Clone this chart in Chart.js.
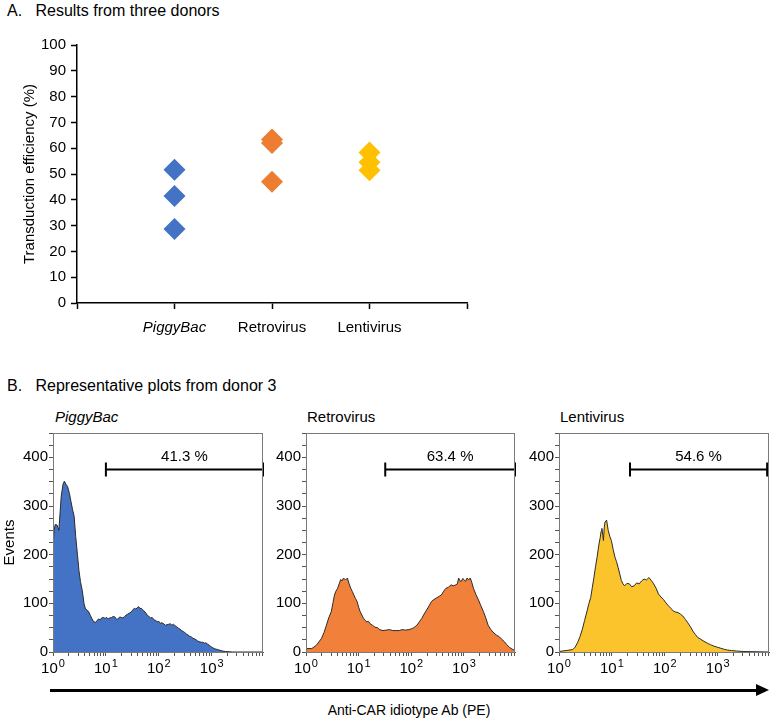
<!DOCTYPE html>
<html>
<head>
<meta charset="utf-8">
<script src="https://cdn.jsdelivr.net/npm/chart.js@4.4.1/dist/chart.umd.min.js"></script>
<style>
body { margin: 0; background: #fff; }
#page { position: relative; width: 778px; height: 718px; overflow: hidden; font-family: "Liberation Sans", Arial, sans-serif; color: #000; }
.box { position: absolute; }
.txt { position: absolute; white-space: nowrap; line-height: 1; }
#arrow { position: absolute; left: 50px; top: 689px; width: 708px; height: 3px; background: #000; }
#arrowHead { position: absolute; left: 756px; top: 684px; width: 0; height: 0; border-top: 6.5px solid transparent; border-bottom: 6.5px solid transparent; border-left: 13px solid #000; }
</style>
</head>
<body>
<div id="page">
  <div class="txt" style="left:7px;top:3px;font-size:16px">A.&nbsp;&nbsp;&nbsp;Results from three donors</div>
  <div class="box" style="left:0;top:30px;width:480px;height:320px"><canvas id="chartA"></canvas></div>

  <div class="txt" style="left:7px;top:378px;font-size:16px">B.&nbsp;&nbsp;&nbsp;Representative plots from donor 3</div>
  <div class="txt" style="left:55px;top:409px;font-size:15px;font-style:italic">PiggyBac</div>
  <div class="txt" style="left:307px;top:409px;font-size:15px">Retrovirus</div>
  <div class="txt" style="left:560px;top:409px;font-size:15px">Lentivirus</div>
  <div class="box" style="left:0;top:395px;width:272px;height:290px"><canvas id="histPB"></canvas></div>
  <div class="box" style="left:272px;top:395px;width:252px;height:290px"><canvas id="histRV"></canvas></div>
  <div class="box" style="left:524px;top:395px;width:254px;height:290px"><canvas id="histLV"></canvas></div>

  <div id="arrow"></div>
  <div id="arrowHead"></div>
  <div class="txt" style="left:0;width:818px;text-align:center;top:703px;font-size:14px">Anti-CAR idiotype Ab (PE)</div>
</div>

<script>
// Panel A: transduction efficiency, three donors
const CATEGORIES = ['PiggyBac', 'Retrovirus', 'Lentivirus'];
const PIGGYBAC = [51.6, 41.5, 28.7];
const RETROVIRUS = [63.4, 62.0, 47.0];
const LENTIVIRUS = [58.3, 54.6, 51.5];
const COLORS_A = ['#4472C4', '#ED7D31', '#FFC000'];

// Panel B: histograms from donor 3 (x = fluorescence, y = events)
const PB_X = [1, 1.05, 1.1, 1.19, 1.29, 1.43, 1.55, 1.64, 1.75, 1.89, 2.05, 2.18, 2.35, 2.51, 2.69, 2.9, 3.09, 3.3, 3.58, 3.85,
  4.12, 4.45, 4.75, 5.1, 5.47, 5.9, 6.31, 6.8, 7.24, 7.8, 8.3, 9, 9.66, 10.4, 11, 11.9, 12.8, 13.8, 14.8, 15.9,
  17, 18.2, 19.5, 21, 22.6, 24.2, 26, 28, 30, 32, 34.5, 37, 39.8, 42, 44, 46.5, 49, 52, 55, 58,
  61, 65, 70, 75, 80.9, 87, 93, 100, 107, 115, 124, 133, 143, 154, 165, 177, 189, 203, 218, 234,
  251, 270, 290, 310, 331, 357, 385, 413, 443, 475, 510, 550, 589, 635, 680, 728, 776, 840, 900, 970,
  1035, 1120, 1200, 1290, 1380, 1600, 1820, 2510, 9330];
const PB_Y = [210, 250, 262, 261, 250, 320, 345, 351, 345, 340, 325, 310, 292, 279, 237, 200, 168, 145, 126, 100,
  88, 86, 82, 75, 68, 62, 61, 64, 68, 66, 70, 71, 69, 71, 68, 70, 71, 73, 72, 67,
  68, 72, 71, 70, 73, 76, 78, 80, 82, 86, 90, 88, 92, 93, 89, 90, 87, 85, 82, 79,
  75, 73, 70, 71, 66, 65, 62, 63, 59, 60, 58, 55, 56, 57, 58, 55, 57, 54, 52, 49,
  47, 44, 42, 40, 37, 35, 32, 31, 28, 27, 25, 22, 21, 20, 20, 18, 19, 16, 14, 11,
  9, 7, 6, 5, 4, 2, 1, 0, 0];

const RV_X = [1, 1.29, 1.58, 1.97, 2.2, 2.44, 2.7, 3.02, 3.24, 3.47, 3.7, 3.98, 4.27, 4.57, 4.85, 5.16, 5.62, 6.12, 6.6, 7.08,
  7.6, 8.13, 8.7, 9.33, 10, 10.7, 11.5, 12.4, 13.3, 14.3, 15.4, 16.5, 18.3, 20.4, 22.6, 25.1, 29, 33.4, 38.5, 44.4,
  51, 58.9, 67, 77.6, 90, 104, 115, 128, 142, 158, 175, 195, 218, 243, 270, 300, 335, 372, 412, 457,
  510, 566, 630, 701, 750, 794, 840, 891, 945, 1000, 1070, 1148, 1230, 1318, 1410, 1514, 1690, 1888, 2100, 2344,
  2600, 2884, 3200, 3548, 4100, 4732, 5250, 5888, 6500, 7244, 8200, 9330];
const RV_Y = [7, 7, 14, 28, 40, 55, 70, 83, 100, 117, 125, 131, 140, 149, 146, 152, 148, 152, 140, 131,
  124, 117, 110, 104, 92, 83, 76, 69, 65, 62, 63, 58, 55, 51, 50, 46, 44, 45, 46, 44,
  44, 44, 46, 45, 46, 48, 51, 55, 62, 69, 78, 86, 95, 104, 108, 111, 114, 117, 125, 131,
  133, 138, 136, 138, 140, 152, 146, 145, 151, 149, 145, 152, 148, 152, 143, 131, 118, 107, 95, 83,
  70, 55, 47, 41, 35, 31, 26, 21, 15, 10, 6, 3];

const LV_X = [1, 1.36, 1.82, 2.02, 2.24, 2.5, 2.75, 3.05, 3.39, 3.68, 3.98, 4.27, 4.57, 4.9, 5.25, 5.62, 6.03, 6.25, 6.46, 6.7,
  6.92, 7.15, 7.41, 7.94, 8.51, 9.1, 9.77, 10.6, 11.4, 12.2, 13.1, 14.1, 15.1, 16.2, 17.4, 19.2, 21.4, 23.7, 26.3, 29.4,
  32.7, 36.4, 40.5, 45, 50.1, 55.5, 61.7, 68.5, 75.9, 84.5, 94.4, 105, 117, 130, 145, 161, 178, 197, 219, 245,
  272, 305, 339, 378, 417, 480, 550, 640, 733, 850, 977, 1120, 1288, 1520, 1820, 2300, 3020, 9330];
const LV_Y = [1, 3, 5, 10, 19, 32, 46, 65, 84, 100, 112, 133, 153, 175, 195, 218, 236, 248, 254, 241,
  229, 255, 267, 271, 250, 238, 229, 210, 195, 186, 174, 160, 147, 140, 136, 141, 140, 134, 136, 142,
  140, 146, 150, 148, 153, 147, 140, 131, 119, 113, 108, 101, 95, 90, 84, 82, 81, 78, 74, 67,
  60, 52, 43, 36, 30, 26, 22, 18, 15, 12, 10, 8, 6, 4, 3, 2, 1, 0];

const HIST_COLORS = ['#4472C4', '#F0803A', '#FBC42C'];
const GATE_START = [10, 32, 22];
const GATE_END = [9330, 9330, 8600];
const GATE_Y = 375;
const GATE_LABELS = ['41.3 %', '63.4 %', '54.6 %'];

const X_TICKS = [1, 2, 3, 4, 5, 6, 7, 8, 9, 10, 20, 30, 40, 50, 60, 70, 80, 90,
  100, 200, 300, 400, 500, 600, 700, 800, 900, 1000, 2000, 3000, 4000, 5000, 6000, 7000, 8000, 9000];
const X_MAJOR = [1, 10, 100, 1000];
const X_EXP = ['0', '1', '2', '3'];
const X_MAX = 9330;

const FONT = '"Liberation Sans", Arial, sans-serif';

// ---- Panel A ----
new Chart(document.getElementById('chartA'), {
  type: 'scatter',
  data: {
    datasets: [
      { label: CATEGORIES[0], data: PIGGYBAC.map(v => ({ x: 1, y: v })), backgroundColor: COLORS_A[0] },
      { label: CATEGORIES[1], data: RETROVIRUS.map(v => ({ x: 2, y: v })), backgroundColor: COLORS_A[1] },
      { label: CATEGORIES[2], data: LENTIVIRUS.map(v => ({ x: 3, y: v })), backgroundColor: COLORS_A[2] }
    ]
  },
  options: {
    responsive: true,
    maintainAspectRatio: false,
    animation: false,
    layout: { padding: { left: 20, right: 13, top: 15, bottom: 7 } },
    elements: { point: { pointStyle: 'rectRot', radius: 11, borderWidth: 0 } },
    plugins: { legend: { display: false }, tooltip: { enabled: false } },
    scales: {
      x: {
        type: 'linear', min: 0, max: 4,
        afterBuildTicks: s => { s.ticks = [0, 1, 2, 3, 4].map(v => ({ value: v })); },
        afterFit: s => { s.height = 40; },
        ticks: {
          autoSkip: false, maxRotation: 0, color: '#000', padding: 10,
          callback: v => CATEGORIES[v - 1] || '',
          font: c => ({ family: FONT, size: 15, style: (c.tick && c.tick.value === 1) ? 'italic' : 'normal' })
        },
        grid: { drawOnChartArea: false, tickLength: 6, color: '#000', tickWidth: 1.5 },
        border: { color: '#000', width: 1.5 }
      },
      y: {
        min: 0, max: 100,
        afterFit: s => { s.width = 57; },
        ticks: { stepSize: 10, color: '#000', padding: 5, font: { family: FONT, size: 15 } },
        grid: { drawOnChartArea: false, tickLength: 6, color: '#000', tickWidth: 1.5 },
        border: { color: '#000', width: 1.5 },
        title: { display: true, text: 'Transduction efficiency (%)', color: '#000', font: { family: FONT, size: 15 }, padding: { top: 1, bottom: 0 } }
      }
    }
  }
});

// ---- Panel B ----
const frame = {
  id: 'frame',
  afterDraw(chart) {
    const a = chart.chartArea, ctx = chart.ctx;
    ctx.save();
    ctx.strokeStyle = '#7a7a7a';
    ctx.lineWidth = 1;
    ctx.strokeRect(a.left + 0.5, a.top + 0.5, a.right - a.left - 1, a.bottom - a.top);
    ctx.restore();
  }
};

const gateLabel = {
  id: 'gateLabel',
  afterDatasetsDraw(chart, args, opts) {
    const pts = chart.getDatasetMeta(1).data;
    const ctx = chart.ctx;
    ctx.save();
    ctx.fillStyle = '#000';
    ctx.font = '15px ' + FONT;
    ctx.textAlign = 'center';
    ctx.textBaseline = 'alphabetic';
    ctx.fillText(opts.text, (pts[0].x + pts[1].x) / 2, pts[0].y - 9);
    ctx.restore();
  }
};

// "10" with a raised exponent under each decade tick
const powerLabels = {
  id: 'powerLabels',
  afterDraw(chart) {
    const s = chart.scales.x, ctx = chart.ctx;
    const base = s.bottom - 12;
    ctx.save();
    ctx.fillStyle = '#000';
    ctx.textBaseline = 'alphabetic';
    ctx.textAlign = 'left';
    X_MAJOR.forEach((v, k) => {
      const x = s.getPixelForValue(v);
      ctx.font = '15px ' + FONT;
      const w1 = ctx.measureText('10').width;
      ctx.font = '11px ' + FONT;
      const w2 = ctx.measureText(X_EXP[k]).width;
      const x0 = x - (w1 + w2 + 1) / 2;
      ctx.font = '15px ' + FONT;
      ctx.fillText('10', x0, base);
      ctx.font = '11px ' + FONT;
      ctx.fillText(X_EXP[k], x0 + w1 + 1, base - 6);
    });
    ctx.restore();
  }
};

function histogram(id, xs, ys, i, yWidth, padRight, yTitle) {
  new Chart(document.getElementById(id), {
    type: 'line',
    data: {
      datasets: [
        {
          data: xs.map((x, k) => ({ x: x, y: ys[k] })),
          backgroundColor: HIST_COLORS[i],
          borderColor: '#2b2b2b',
          borderWidth: 1,
          pointRadius: 0,
          fill: 'origin',
          tension: 0
        },
        {
          data: [{ x: GATE_START[i], y: GATE_Y }, { x: GATE_END[i], y: GATE_Y }],
          borderColor: '#000',
          borderWidth: 2,
          pointStyle: 'line',
          rotation: 90,
          pointRadius: 7,
          pointBorderWidth: 2,
          pointBorderColor: '#000',
          fill: false,
          clip: false
        }
      ]
    },
    options: {
      responsive: true,
      maintainAspectRatio: false,
      animation: false,
      layout: { padding: { left: 0, right: padRight, top: 38, bottom: 0 } },
      plugins: { legend: { display: false }, tooltip: { enabled: false }, gateLabel: { text: GATE_LABELS[i] } },
      scales: {
        x: {
          type: 'logarithmic', min: 1, max: X_MAX,
          afterBuildTicks: s => { s.ticks = X_TICKS.map(v => ({ value: v })); },
          afterFit: s => { s.height = 33; },
          ticks: { autoSkip: false, maxRotation: 0, callback: () => '' },
          grid: { drawOnChartArea: false, tickLength: 4, color: '#555' },
          border: { color: '#555', width: 1 }
        },
        y: {
          min: 0, max: 450,
          afterFit: s => { s.width = yWidth; },
          ticks: {
            stepSize: 25, autoSkip: false, color: '#000', padding: 1,
            font: { family: FONT, size: 15 },
            callback: v => (v % 100 === 0 ? String(v) : '')
          },
          grid: { drawOnChartArea: false, tickLength: 4, color: '#555' },
          border: { color: '#555', width: 1 },
          title: { display: !!yTitle, text: yTitle || '', color: '#000', font: { family: FONT, size: 15 }, padding: { top: 1, bottom: 0 } }
        }
      }
    },
    plugins: [frame, gateLabel, powerLabels]
  });
}

histogram('histPB', PB_X, PB_Y, 0, 53, 4, 'Events');
histogram('histRV', RV_X, RV_Y, 1, 34, 3, '');
histogram('histLV', LV_X, LV_Y, 2, 35, 2, '');
</script>
</body>
</html>
